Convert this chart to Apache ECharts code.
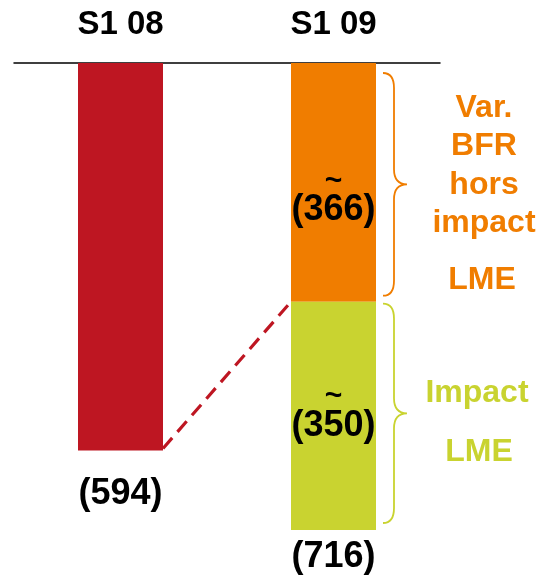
<!DOCTYPE html>
<html>
<head>
<meta charset="utf-8">
<script src="https://cdn.jsdelivr.net/npm/echarts@6/dist/echarts.min.js"></script>
<style>
  html, body { margin: 0; padding: 0; background: #fff; }
  #chart { width: 539px; height: 577px; }
</style>
</head>
<body>
<div id="chart"></div>
<script>
// Periods on the category axis
const periods = ['S1 08', 'S1 09'];
// S1 08 total
const s108Values = [594, '-'];
// S1 09 split: variation excluding LME impact, then LME impact
const bfrHorsLme = ['-', 366];
const impactLme = ['-', 350];
// Totals shown under each bar
const totals = [594, 716];
// Right-hand annotation texts
const bfrText = ['Var.', 'BFR', 'hors', 'impact'];
const lmeText = 'LME';
const impactText = 'Impact';

const RED = '#BE1622';
const ORANGE = '#F07D00';
const GREEN = '#C9D330';
const FONT = '"Liberation Sans", Arial, sans-serif';
const BAR_W = 85;

const chart = echarts.init(document.getElementById('chart'));

const tildeLabel = (v, dy) => ({
  show: true,
  position: 'inside',
  offset: [0, dy],
  formatter: () => '{t|~}\n{v|(' + v + ')}',
  rich: {
    t: { fontSize: 30, fontWeight: 'bold', fontFamily: FONT, color: '#000', lineHeight: 20, align: 'center' },
    v: { fontSize: 36, fontWeight: 'bold', fontFamily: FONT, color: '#000', lineHeight: 38, align: 'center' }
  }
});

// Curly brace to the right of a stacked segment, tip pointing right
const braceInsets = [[10, 6], [2, 7]];
function braceItem(params, api) {
  const x = api.value(0);
  const a = api.coord([x, api.value(1)]);
  const b = api.coord([x, api.value(2)]);
  const ins = braceInsets[params.dataIndex];
  const xl = a[0] + BAR_W / 2 + 7;
  const xm = xl + 11;
  const xt = xl + 24;
  const y0 = a[1] + ins[0];
  const y1 = b[1] - ins[1];
  const ym = (y0 + y1) / 2;
  const r = 15;
  const d = `M${xl} ${y0} Q${xm} ${y0} ${xm} ${y0 + r} L${xm} ${ym - r} Q${xm} ${ym} ${xt} ${ym} ` +
            `Q${xm} ${ym} ${xm} ${ym + r} L${xm} ${y1 - r} Q${xm} ${y1} ${xl} ${y1}`;
  return {
    type: 'path',
    shape: { pathData: d },
    style: { fill: 'none', stroke: [ORANGE, GREEN][params.dataIndex], lineWidth: 1.8 }
  };
}

// Dashed bridge from the end of S1 08 to the top of the LME segment
function bridgeItem(params, api) {
  const p = api.coord([api.value(0), api.value(1)]);
  const q = api.coord([api.value(2), api.value(3)]);
  return {
    type: 'line',
    shape: { x1: p[0] + BAR_W / 2, y1: p[1] - 2, x2: q[0] - BAR_W / 2, y2: q[1] },
    style: { stroke: RED, lineWidth: 3.2, lineDash: [14, 8] }
  };
}

const textStyle = (color) => ({ fontSize: 32, fontWeight: 'bold', fontFamily: FONT, fill: color, align: 'center', verticalAlign: 'middle' });

chart.setOption({
  animation: false,
  grid: { left: 14, right: 99, top: 63, bottom: 47 },
  xAxis: {
    type: 'category',
    position: 'top',
    data: periods,
    axisLine: { show: true, lineStyle: { color: '#000', width: 1.5 } },
    axisTick: { show: false },
    axisLabel: { fontSize: 33, fontWeight: 'bold', fontFamily: FONT, color: '#000', margin: 22 }
  },
  yAxis: { type: 'value', inverse: true, min: 0, max: 716, show: false, splitLine: { show: false } },
  series: [
    {
      type: 'bar', stack: 'total', barWidth: BAR_W, data: s108Values,
      itemStyle: { color: RED }
    },
    {
      type: 'bar', stack: 'total', barWidth: BAR_W, data: bfrHorsLme,
      itemStyle: { color: ORANGE },
      label: tildeLabel(bfrHorsLme[1], 18)
    },
    {
      type: 'bar', stack: 'total', barWidth: BAR_W, data: impactLme,
      itemStyle: { color: GREEN },
      label: tildeLabel(impactLme[1], 0)
    },
    {
      type: 'scatter', symbolSize: 0, silent: true,
      itemStyle: { opacity: 1, color: '#000' },
      data: [
        { value: [0, totals[0]], label: { offset: [0, 44] } },
        { value: [1, totals[1]], label: { offset: [0, 27] } }
      ],
      label: {
        show: true, position: 'inside',
        formatter: (p) => '(' + p.value[1] + ')',
        fontSize: 36, fontWeight: 'bold', fontFamily: FONT, color: '#000', opacity: 1
      }
    },
    {
      type: 'custom', renderItem: bridgeItem, silent: true,
      data: [[0, totals[0], 1, bfrHorsLme[1]]]
    },
    {
      type: 'custom', renderItem: braceItem, silent: true,
      data: [[1, 0, bfrHorsLme[1]], [1, bfrHorsLme[1], bfrHorsLme[1] + impactLme[1]]]
    }
  ],
  graphic: [
    ...bfrText.map((t, i) => ({ type: 'text', x: 484, y: 108 + i * 38.4, style: { text: t, ...textStyle(ORANGE) } })),
    { type: 'text', x: 482, y: 280, style: { text: lmeText, ...textStyle(ORANGE) } },
    { type: 'text', x: 477, y: 393, style: { text: impactText, ...textStyle(GREEN) } },
    { type: 'text', x: 479, y: 452, style: { text: lmeText, ...textStyle(GREEN) } }
  ]
});
</script>
</body>
</html>
